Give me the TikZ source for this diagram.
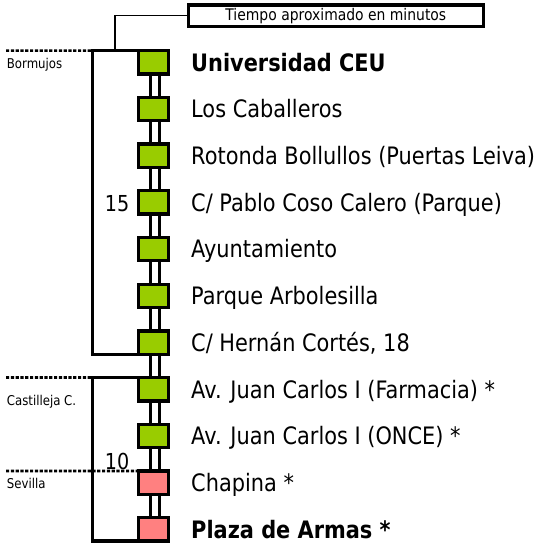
\documentclass[tikz,border=0pt]{standalone}
\usepackage{fontspec}
\setmainfont{DejaVu Sans}[FakeStretch=0.87]
\usetikzlibrary{backgrounds}
\definecolor{grn}{HTML}{99CC00}
\definecolor{pnk}{HTML}{FF8080}
\tikzset{
  stop/.style={draw=black, line width=3.3bp, minimum width=30bp, minimum height=23.3bp, inner sep=0pt, outer sep=0pt},
  link/.style={draw=black, line width=3.3bp, double=white, double distance=5.4bp},
  brk/.style={draw=black, line width=3.3bp, line join=miter, line cap=butt},
  dotline/.style={draw=black, line width=2.7bp, dash pattern=on 3.2bp off 1.6bp},
  leader/.style={draw=black, line width=1.3bp},
  lbl/.style={anchor=base west, inner sep=0pt, font=\fontsize{24bp}{28bp}\selectfont},
  num/.style={anchor=base east, inner sep=0pt, font=\fontsize{22bp}{26bp}\selectfont},
  area/.style={anchor=base west, inner sep=0pt, font=\fontsize{13.5bp}{16bp}\selectfont},
  titlebox/.style={draw=black, line width=3.3bp, minimum width=295bp, minimum height=21.7bp, inner sep=0pt, font=\fontsize{16bp}{19bp}\selectfont},
}
\begin{document}
\begin{tikzpicture}[x=1bp, y=-1bp]
\useasboundingbox (0,0) rectangle (541,545);
% stops
\node[stop, fill=grn] (s1) at (153.3,62.3) {};
\node[stop, fill=grn] (s2) at (153.3,109.0) {};
\node[stop, fill=grn] (s3) at (153.3,155.7) {};
\node[stop, fill=grn] (s4) at (153.3,202.4) {};
\node[stop, fill=grn] (s5) at (153.3,249.1) {};
\node[stop, fill=grn] (s6) at (153.3,295.8) {};
\node[stop, fill=grn] (s7) at (153.3,342.5) {};
\node[stop, fill=grn] (s8) at (153.3,389.2) {};
\node[stop, fill=grn] (s9) at (153.3,435.9) {};
\node[stop, fill=pnk] (s10) at (153.3,482.6) {};
\node[stop, fill=pnk] (s11) at (153.3,529.3) {};
% links behind
\begin{pgfonlayer}{background}
\foreach \a/\b in {s1/s2,s2/s3,s3/s4,s4/s5,s5/s6,s6/s7,s7/s8,s8/s9,s9/s10,s10/s11}
  \draw[link] ([xshift=1.8bp]\a.south) -- ([xshift=1.8bp]\b.north);
\end{pgfonlayer}
% labels
\node[lbl] (t1) at (191,71.1) {\bfseries Universidad CEU};
\node[lbl] (t2) at (191,117.8) {Los Caballeros};
\node[lbl] (t3) at (191,164.5) {Rotonda Bollullos (Puertas Leiva)};
\node[lbl] (t4) at (191,211.2) {C/ Pablo Coso Calero (Parque)};
\node[lbl] (t5) at (191,257.9) {Ayuntamiento};
\node[lbl] (t6) at (191,304.6) {Parque Arbolesilla};
\node[lbl] (t7) at (191,351.3) {C/ Hernán Cortés, 18};
\node[lbl] (t8) at (191,398.0) {Av. Juan Carlos I (Farmacia) *};
\node[lbl] (t9) at (191,444.7) {Av. Juan Carlos I (ONCE) *};
\node[lbl] (t10) at (191,491.4) {Chapina *};
\node[lbl] (t11) at (191,538.4) {\bfseries Plaza de Armas *};
% brackets
\coordinate (bx1) at (92.3,200);
\coordinate (bx2) at (92.3,460);
\draw[brk] (s1.north west) -| (bx1) |- (s7.south west);
\draw[brk] (s8.north west) -| (bx2) |- (s11.south west);
% dotted boundaries
\coordinate (d1) at (6,50.65);
\coordinate (d2) at (6,377.55);
\coordinate (d3) at (6,470.95);
\draw[dotline] (d1) -- (bx1 |- s1.north west);
\draw[dotline] (d2) -- (bx2 |- s8.north west);
\draw[dotline] (d3) -- (s10.north west);
% area names
\node[area] (a1) at (6.7,68.3) {Bormujos};
\node[area] (a2) at (6.7,405) {Castilleja C.};
\node[area] (a3) at (6.7,488.3) {Sevilla};
% times
\node[num] (n1) at (129.5,212) {15};
\node[num] (n2) at (129.5,469) {10};
% title box and leader
\node[titlebox] (tb) at (335.8,15.85) {Tiempo aproximado en minutos};
\coordinate (lk) at (115,50.65);
\draw[leader] (lk) |- (tb.west);
\end{tikzpicture}
\end{document}
